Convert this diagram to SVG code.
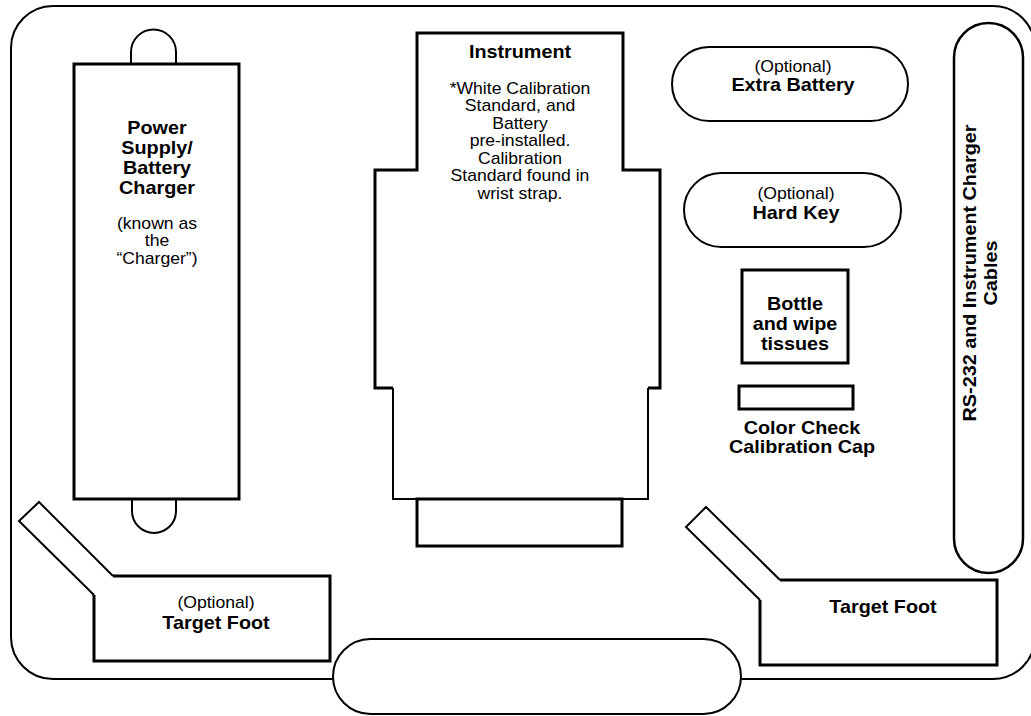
<svg xmlns="http://www.w3.org/2000/svg" width="1031" height="716" viewBox="0 0 1031 716">
<style>
.thin{fill:none;stroke:#000;stroke-width:2}
.thick{fill:none;stroke:#000;stroke-width:3}
.wf{fill:#fff}
text{font-family:"Liberation Sans",Arial,sans-serif;fill:#000;text-anchor:middle}
.b{font-weight:bold;font-size:18px}
.r{font-size:16px}
</style>
<rect width="1031" height="716" fill="#fff"/>
<g id="case"><rect class="thin" x="11" y="6" width="1024" height="673" rx="42" ry="42"/></g>
<g id="bottom-slot"><rect class="thin wf" x="333" y="639" width="408" height="75" rx="37.5" ry="37.5"/></g>
<g id="charger">
<path class="thin" d="M131,64 V52 A22.5,22.5 0 0 1 176,52 V64"/>
<path class="thin" d="M132,499 V511 A22,22 0 0 0 176,511 V499"/>
<rect class="thick" x="74" y="64" width="165" height="435"/>
<text class="b" transform="translate(157,0) scale(1.1,1)"><tspan x="0" y="134">Power</tspan><tspan x="0" y="154">Supply/</tspan><tspan x="0" y="174">Battery</tspan><tspan x="0" y="194">Charger</tspan></text>
<text class="r" transform="translate(157,0) scale(1.1,1)"><tspan x="0" y="229">(known as</tspan><tspan x="0" y="246">the</tspan><tspan x="0" y="264">“Charger”)</tspan></text>
</g>
<g id="instrument">
<path class="thick" d="M393,388 H375 V170 H417 V33 H623 V170 H660 V388 H648"/>
<path class="thin" d="M393,388 V499 H648 V388"/>
<rect class="thick" x="417" y="499" width="205" height="47"/>
<text class="b" transform="translate(520,0) scale(1.1,1)" x="0" y="58">Instrument</text>
<text class="r" transform="translate(520,0) scale(1.1,1)"><tspan x="0" y="94">*White Calibration</tspan><tspan x="0" y="111">Standard, and</tspan><tspan x="0" y="129">Battery</tspan><tspan x="0" y="146">pre-installed.</tspan><tspan x="0" y="164">Calibration</tspan><tspan x="0" y="181">Standard found in</tspan><tspan x="0" y="199">wrist strap.</tspan></text>
</g>
<g id="extra-battery">
<rect class="thin" x="672" y="47" width="236" height="74" rx="37" ry="37"/>
<text class="r" transform="translate(793,0) scale(1.1,1)" x="0" y="72">(Optional)</text>
<text class="b" transform="translate(793,0) scale(1.1,1)" x="0" y="91">Extra Battery</text>
</g>
<g id="hard-key">
<rect class="thin" x="684" y="173" width="217" height="74" rx="37" ry="37"/>
<text class="r" transform="translate(796,0) scale(1.1,1)" x="0" y="199">(Optional)</text>
<text class="b" transform="translate(796,0) scale(1.1,1)" x="0" y="219">Hard Key</text>
</g>
<g id="bottle">
<rect class="thick" x="742" y="270" width="106" height="93"/>
<text class="b" transform="translate(795,0) scale(1.1,1)"><tspan x="0" y="310">Bottle</tspan><tspan x="0" y="330">and wipe</tspan><tspan x="0" y="350">tissues</tspan></text>
</g>
<g id="cap">
<rect class="thick" x="739" y="386" width="114" height="23"/>
<text class="b" transform="translate(802,0) scale(1.1,1)"><tspan x="0" y="434">Color Check</tspan><tspan x="0" y="453">Calibration Cap</tspan></text>
</g>
<g id="cables">
<rect class="thin" x="954" y="23" width="69" height="550" rx="34.5" ry="34.5" style="stroke-width:2.5"/>
<text class="b" transform="translate(976,273) rotate(-90) scale(1.1,1)">RS-232 and Instrument Charger</text>
<text class="b" transform="translate(997,273) rotate(-90) scale(1.1,1)">Cables</text>
</g>
<g id="target-foot-optional">
<path class="thin" d="M113,576 L39,502 L19,521 L94,595"/>
<path class="thick" d="M113,576 H330 V661 H94 V595"/>
<text class="r" transform="translate(216,0) scale(1.1,1)" x="0" y="608">(Optional)</text>
<text class="b" transform="translate(216,0) scale(1.1,1)" x="0" y="629">Target Foot</text>
</g>
<g id="target-foot">
<path class="thin" d="M780,580 L706,507 L686,527 L760,600"/>
<path class="thick" d="M780,580 H997 V665 H760 V600"/>
<text class="b" transform="translate(883,0) scale(1.1,1)" x="0" y="613">Target Foot</text>
</g>
<g id="connectors"/>
</svg>
